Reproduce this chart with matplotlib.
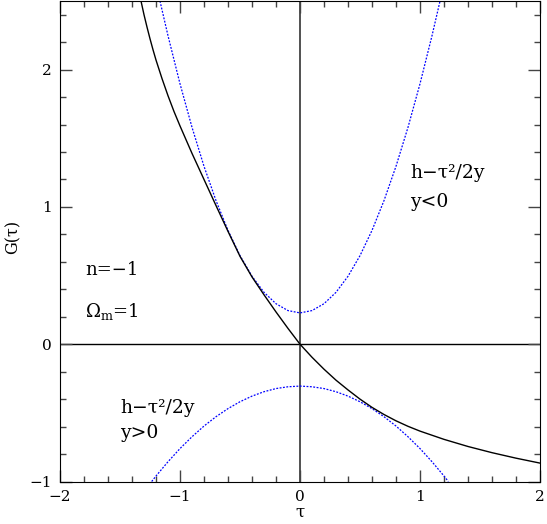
import matplotlib
matplotlib.use("Agg")
import matplotlib.pyplot as plt
from matplotlib.ticker import MultipleLocator

# ---- data ----
# G(tau) curve (black)
tau_g = [-1.325, -1.3, -1.275, -1.25, -1.225, -1.2, -1.15, -1.1, -1.05, -1.0,
         -0.9, -0.8, -0.7, -0.6, -0.5, -0.4, -0.3, -0.2, -0.1, 0.0, 0.1, 0.2,
         0.3, 0.4, 0.5, 0.6, 0.7, 0.8, 0.9, 1.0, 1.2, 1.4, 1.6, 1.8, 2.0]
g_val = [2.50, 2.40, 2.31, 2.225, 2.145, 2.07, 1.935, 1.81, 1.695, 1.59,
         1.39, 1.20, 1.01, 0.822, 0.64, 0.49, 0.36, 0.235, 0.115, 0.0, -0.095,
         -0.182, -0.262, -0.333, -0.40, -0.46, -0.512, -0.558, -0.598, -0.633,
         -0.693, -0.745, -0.790, -0.830, -0.866]

# parabola h - tau^2/2y, y<0 (blue, upper)
tau_up = [-1.167, -1.1, -1.0, -0.9, -0.8, -0.7, -0.6, -0.5, -0.4, -0.3, -0.2,
          -0.1, 0.0, 0.1, 0.2, 0.3, 0.4, 0.5, 0.6, 0.7, 0.8, 0.9, 1.0, 1.1, 1.167]
g_up = [2.50, 2.247, 1.897, 1.580, 1.296, 1.046, 0.829, 0.645, 0.495, 0.378,
        0.295, 0.245, 0.228, 0.245, 0.295, 0.378, 0.495, 0.645, 0.829, 1.046,
        1.296, 1.580, 1.897, 2.247, 2.50]

# parabola h - tau^2/2y, y>0 (blue, lower)
tau_lo = [-1.236, -1.2, -1.1, -1.0, -0.9, -0.8, -0.7, -0.6, -0.5, -0.4, -0.3,
          -0.2, -0.1, 0.0, 0.1, 0.2, 0.3, 0.4, 0.5, 0.6, 0.7, 0.8, 0.9, 1.0,
          1.1, 1.2, 1.236]
g_lo = [-1.0, -0.960, -0.856, -0.760, -0.674, -0.596, -0.528, -0.469, -0.419,
        -0.378, -0.346, -0.323, -0.310, -0.305, -0.310, -0.323, -0.346, -0.378,
        -0.419, -0.469, -0.528, -0.596, -0.674, -0.760, -0.856, -0.960, -1.0]

plt.rcParams['font.family'] = 'DejaVu Serif'
plt.rcParams['mathtext.fontset'] = 'dejavuserif'

fig = plt.figure(figsize=(5.47, 5.24), dpi=100)
ax = fig.add_axes([0.1097, 0.0811, 0.8775, 0.917])

ax.axhline(0, color='black', lw=1.0, zorder=1)
ax.axvline(0, color='#333333', lw=1.2, zorder=1)

ax.plot(tau_g, g_val, color='black', lw=1.0, zorder=3)
ax.plot(tau_up, g_up, color='#0000ff', lw=0.9, ls=(0, (1.5, 1.2)), zorder=2)
ax.plot(tau_lo, g_lo, color='#0000ff', lw=0.9, ls=(0, (1.5, 1.2)), zorder=2)

ax.set_xlim(-2, 2)
ax.set_ylim(-1, 2.5)
ax.xaxis.set_major_locator(MultipleLocator(1))
ax.xaxis.set_minor_locator(MultipleLocator(0.2))
ax.yaxis.set_major_locator(MultipleLocator(1))
ax.yaxis.set_minor_locator(MultipleLocator(0.2))
ax.tick_params(which='both', direction='in', top=True, right=True,
               color='#444444', width=1.0, labelsize=11)
ax.tick_params(which='major', length=8.5, pad=6)
ax.tick_params(which='minor', length=4.3)

ax.set_xlabel('τ', fontsize=12, labelpad=0)
ax.set_ylabel('G(τ)', fontsize=11.5, va='center')
ax.yaxis.set_label_coords(-0.098, 0.51)

# annotations
ax.text(0.917, 1.245, 'h−τ²/2y', fontsize=13.5, va='center', ha='left')
ax.text(0.917, 1.035, 'y<0', fontsize=13.5, va='center', ha='left')
ax.text(-1.79, 0.538, 'n=−1', fontsize=13, va='center', ha='left')
ax.text(-1.79, 0.235, r'$\Omega_\mathrm{m}$=1', fontsize=13, va='center', ha='left')
ax.text(-1.5, -0.463, 'h−τ²/2y', fontsize=13.5, va='center', ha='left')
ax.text(-1.5, -0.65, 'y>0', fontsize=13.5, va='center', ha='left')

fig.savefig('out.png', dpi=100)
